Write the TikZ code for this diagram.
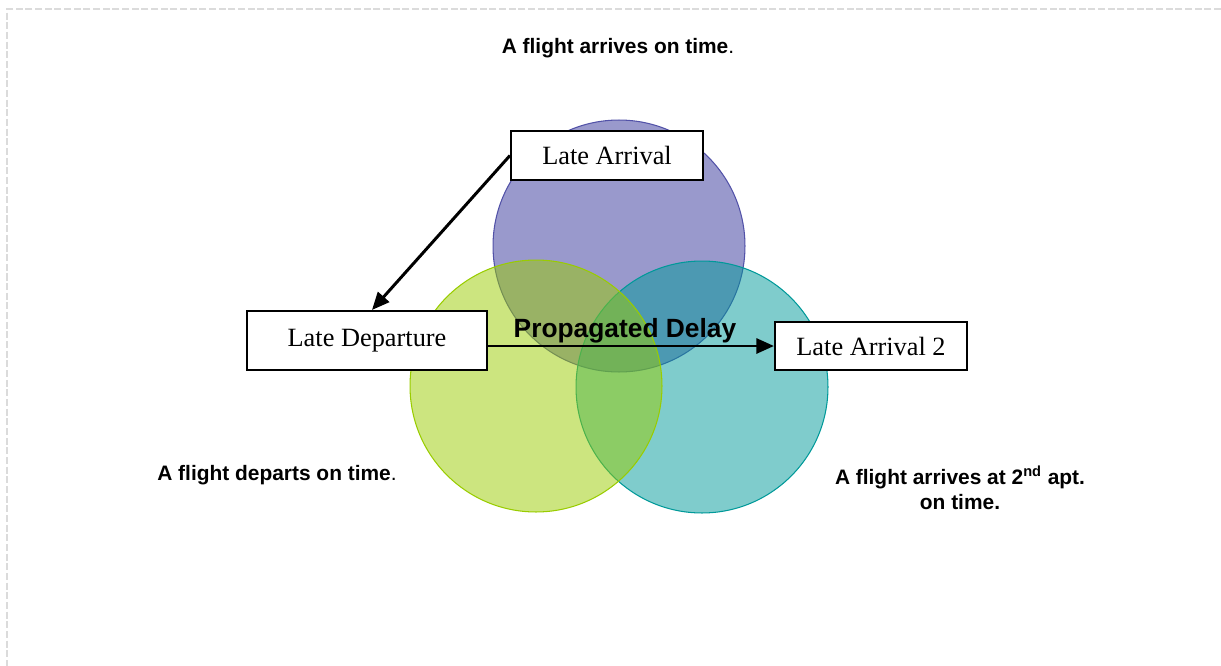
\documentclass[tikz,border=0pt]{standalone}
\usepackage{fontspec}
\setmainfont{Liberation Serif}
\setsansfont{Liberation Sans}
\usetikzlibrary{arrows.meta}

\definecolor{arrset}{RGB}{51,51,153}
\definecolor{depset}{RGB}{153,204,0}
\definecolor{nxtset}{RGB}{0,153,153}

\begin{document}
\begin{tikzpicture}[x=0.02cm, y=-0.02cm, set/.style={circle, draw, line width=0.6pt, minimum size=5.04cm, fill opacity=0.5, draw opacity=1}, box/.style={rectangle, draw, fill=white, line width=1.2pt, font=\fontsize{15}{18}\selectfont, minimum width=3.84cm, minimum height=0.97cm}, note/.style={font=\sffamily\bfseries\fontsize{11.9}{14.5}\selectfont, align=center}, link/.style={-{Triangle[length=10pt, width=8.5pt]}, line width=1.7pt}]
	\useasboundingbox (0,0) rectangle (1221,666);
	\draw[black!14, line width=0.7pt, dash pattern=on 4pt off 1.5pt] (1221,9) -- (7,9) -- (7,666);

	% sets
	\node[set, fill=arrset, draw=arrset!85] (arr) at (619,246) {}; %
	\node[set, fill=nxtset, draw=nxtset] (nxt) at (702,387) {}; %
	\node[set, fill=depset, draw=depset] (dep) at (536,386) {}; %

	% labels
	\node[note] (ontime) at (618,48) {A flight arrives on time\textmd{.}}; %
	\node[note] (depontime) at (277,475) {A flight departs on time\textmd{.}}; %
	\node[note] (nxtontime) at (960,488) {A flight arrives at 2\textsuperscript{nd} apt.\\on time.}; %
	\node[note, font=\sffamily\bfseries\fontsize{15}{18}\selectfont] (prop) at (625,331) {Propagated Delay}; %

	% boxes
	\node[box] (latearr) at (607,155.5) {Late Arrival}; %
	\node[box, minimum width=4.8cm, minimum height=1.18cm] (latedep) at (367,340.5) {Late Departure}; %
	\node[box] (latearr2) at (871,346) {Late Arrival 2}; %

	% edges
	\draw[link] (latearr.west) -- ([xshift=0.1cm]latedep.north);
	\draw[link] (latedep.east |- latearr2.west) -- (latearr2.west);
\end{tikzpicture}
\end{document}
